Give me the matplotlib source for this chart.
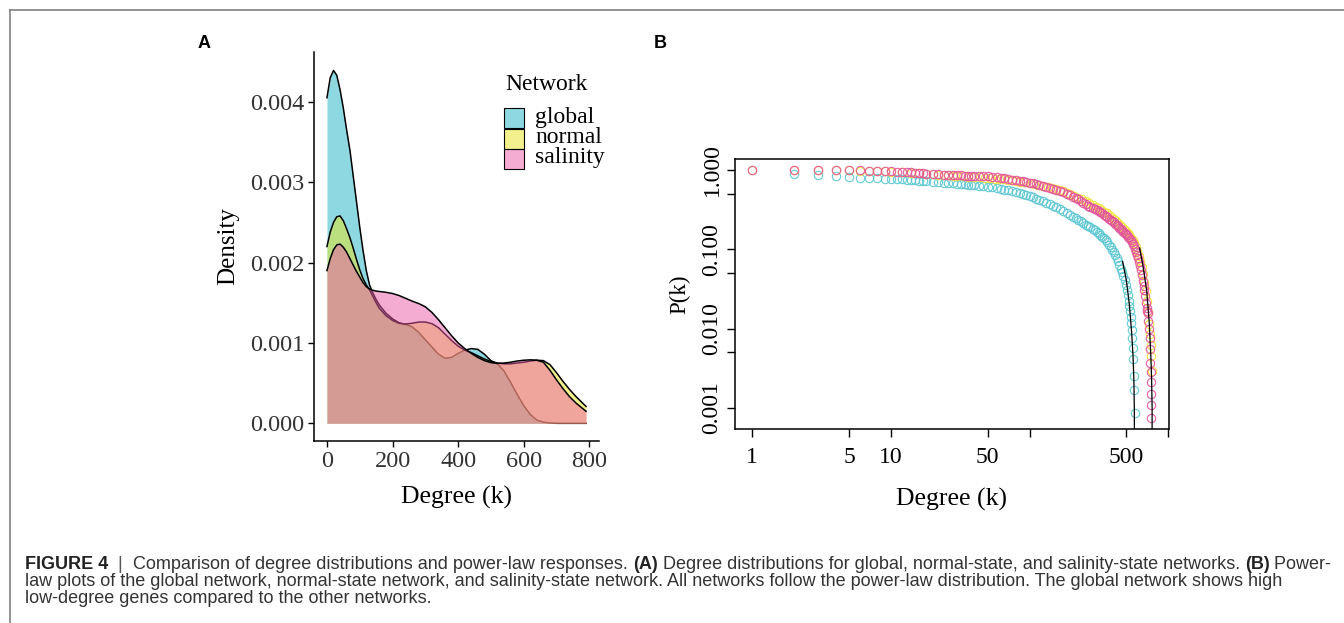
import numpy as np
import matplotlib
matplotlib.use('Agg')
import matplotlib.pyplot as plt
from matplotlib.patches import Rectangle
from matplotlib.lines import Line2D
from matplotlib.colors import to_rgba

# ---- panel A: density of degree (values x 0.001) ----
dens_x = [0, 10, 20, 30, 40, 50, 60, 70, 80, 90, 100, 110, 120, 130, 140, 150, 160, 180, 200, 220,
          240, 260, 280, 300, 320, 340, 360, 380, 400, 420, 440, 460, 480, 500, 520, 540, 560, 580,
          600, 620, 640, 660, 680, 700, 720, 740, 760, 790]
dens_global = [4.05, 4.30, 4.39, 4.33, 4.15, 3.92, 3.65, 3.40, 3.08, 2.76, 2.44, 2.15, 1.90, 1.72, 1.62,
               1.54, 1.47, 1.37, 1.30, 1.25, 1.23, 1.20, 1.13, 1.04, 0.95, 0.86, 0.81, 0.82, 0.87, 0.91,
               0.93, 0.92, 0.86, 0.78, 0.74, 0.65, 0.51, 0.36, 0.22, 0.11, 0.04, 0.015, 0.005, 0.0, 0.0,
               0.0, 0.0, 0.0]
dens_normal = [2.20, 2.38, 2.50, 2.57, 2.58, 2.52, 2.42, 2.31, 2.18, 2.04, 1.91, 1.80, 1.72, 1.66, 1.58,
               1.50, 1.43, 1.34, 1.28, 1.245, 1.235, 1.245, 1.26, 1.26, 1.24, 1.19, 1.11, 1.03, 0.96,
               0.91, 0.88, 0.84, 0.80, 0.77, 0.75, 0.74, 0.74, 0.75, 0.76, 0.775, 0.785, 0.78, 0.73,
               0.63, 0.52, 0.42, 0.33, 0.21]
dens_salinity = [1.90, 2.05, 2.16, 2.22, 2.23, 2.19, 2.13, 2.05, 1.97, 1.89, 1.82, 1.75, 1.70, 1.67, 1.655,
                 1.645, 1.64, 1.63, 1.615, 1.59, 1.555, 1.52, 1.49, 1.45, 1.38, 1.29, 1.19, 1.09, 1.00,
                 0.93, 0.87, 0.82, 0.78, 0.755, 0.745, 0.75, 0.76, 0.775, 0.785, 0.79, 0.785, 0.76,
                 0.66, 0.54, 0.43, 0.33, 0.25, 0.15]

networks = ['global', 'normal', 'salinity']
fills = ['#1FB3C6', '#E8E41E', '#EC5AA8']

# ---- panel B: P(k) vs degree ----
g_k = [2, 3, 4, 5, 6, 7, 8, 9, 10, 11, 12, 13, 14, 15, 16, 17, 18, 20, 22, 24, 26, 28, 30, 32, 34, 36, 38,
       40, 43, 46, 50, 54, 58, 62, 66, 70, 75, 80, 85, 90, 95, 100, 106, 112, 118, 125, 132, 140, 148, 156,
       165, 175, 185, 195, 205, 215, 225, 235, 245, 255, 265, 275, 285, 295, 305, 315, 325, 335, 345, 355,
       365, 375, 385, 395, 405, 415, 425, 435, 445, 455, 465, 475, 485, 495, 505, 512, 518, 524, 530, 535,
       540, 545, 550, 555, 560, 565, 570, 575]
g_p = [0.890, 0.848, 0.840, 0.808, 0.793, 0.785, 0.778, 0.774, 0.770, 0.763, 0.755, 0.748, 0.741, 0.734,
       0.730, 0.723, 0.713, 0.706, 0.696, 0.686, 0.679, 0.672, 0.666, 0.659, 0.653, 0.647, 0.641, 0.635,
       0.629, 0.623, 0.611, 0.599, 0.588, 0.574, 0.560, 0.549, 0.533, 0.518, 0.506, 0.494, 0.480, 0.466,
       0.448, 0.431, 0.415, 0.399, 0.384, 0.366, 0.349, 0.335, 0.320, 0.302, 0.285, 0.268, 0.256, 0.244,
       0.233, 0.223, 0.214, 0.204, 0.195, 0.188, 0.180, 0.174, 0.166, 0.158, 0.150, 0.143, 0.137, 0.130,
       0.122, 0.113, 0.106, 0.098, 0.091, 0.084, 0.077, 0.070, 0.064, 0.057, 0.051, 0.046, 0.041, 0.0356,
       0.0303, 0.0261, 0.0225, 0.0194, 0.0164, 0.0139, 0.0117, 0.0097, 0.0076, 0.0057, 0.0041, 0.00249,
       0.00169, 0.00086]

n_k = [1, 2, 3, 4, 5, 6, 7, 8, 9, 10, 12, 14, 16, 18, 20, 22, 24, 26, 28, 30, 33, 36, 40, 44, 48, 52, 56, 60,
       65, 70, 75, 80, 86, 92, 100, 108, 116, 125, 135, 145, 155, 165, 175, 185, 195, 210, 225, 240, 255,
       270, 285, 300, 315, 330, 345, 360, 375, 390, 405, 420, 435, 450, 465, 480, 495, 510, 525, 540, 555,
       570, 585, 600, 615, 630, 645, 660, 675, 690, 705, 718, 730, 740, 748, 754, 760]
n_p = [1.0, 0.995, 0.99, 0.985, 0.98, 0.975, 0.968, 0.96, 0.952, 0.944, 0.93, 0.916, 0.902, 0.888, 0.876,
       0.866, 0.856, 0.848, 0.84, 0.833, 0.825, 0.818, 0.81, 0.801, 0.792, 0.784, 0.775, 0.766, 0.755, 0.744,
       0.733, 0.722, 0.709, 0.696, 0.68, 0.664, 0.648, 0.63, 0.61, 0.59, 0.571, 0.552, 0.533, 0.514, 0.496,
       0.47, 0.446, 0.423, 0.401, 0.381, 0.362, 0.344, 0.327, 0.311, 0.296, 0.281, 0.266, 0.252, 0.238,
       0.225, 0.213, 0.202, 0.191, 0.181, 0.171, 0.161, 0.151, 0.14, 0.129, 0.118, 0.107, 0.095, 0.083,
       0.071, 0.06, 0.049, 0.039, 0.030, 0.022, 0.016, 0.0115, 0.0085, 0.0062, 0.0045, 0.0029]

s_k = [1, 2, 3, 4, 5, 6, 7, 8, 9, 10, 11, 12, 13, 14, 15, 16, 17, 18, 20, 22, 24, 26, 28, 30, 32, 34, 36, 38,
       40, 43, 46, 50, 54, 58, 62, 66, 70, 75, 80, 85, 90, 95, 100, 106, 112, 118, 125, 132, 140, 148, 156,
       165, 175, 185, 195, 205, 215, 225, 235, 245, 255, 265, 275, 285, 295, 305, 315, 325, 335, 345, 355,
       365, 375, 385, 395, 405, 415, 425, 435, 445, 455, 465, 475, 485, 495, 505, 515, 525, 535, 545, 555,
       565, 575, 585, 595, 605, 615, 625, 635, 645, 655, 665, 672, 680, 690, 700, 707, 713, 720, 728, 736,
       741, 745, 748, 750, 752, 755, 758]
s_p = [1.0, 1.0, 0.998, 0.995, 0.99, 0.984, 0.977, 0.968, 0.96, 0.952, 0.945, 0.937, 0.93, 0.923, 0.916,
       0.909, 0.902, 0.895, 0.886, 0.877, 0.869, 0.862, 0.857, 0.852, 0.848, 0.845, 0.841, 0.838, 0.835,
       0.831, 0.827, 0.822, 0.812, 0.801, 0.789, 0.776, 0.763, 0.750, 0.738, 0.725, 0.712, 0.700, 0.689,
       0.675, 0.660, 0.645, 0.628, 0.611, 0.590, 0.572, 0.555, 0.537, 0.517, 0.497, 0.477, 0.459, 0.442,
       0.424, 0.405, 0.385, 0.365, 0.352, 0.340, 0.330, 0.321, 0.312, 0.300, 0.292, 0.282, 0.271, 0.262,
       0.252, 0.243, 0.234, 0.225, 0.217, 0.208, 0.200, 0.193, 0.186, 0.179, 0.172, 0.166, 0.160, 0.154,
       0.149, 0.144, 0.138, 0.131, 0.124, 0.116, 0.108, 0.101, 0.093, 0.085, 0.077, 0.069, 0.062, 0.055,
       0.047, 0.040, 0.034, 0.031, 0.026, 0.021, 0.018, 0.0165, 0.0157, 0.0125, 0.0098, 0.0076, 0.0055,
       0.0037, 0.0028, 0.0021, 0.0015, 0.0011, 0.00074]

gfit_k = [469, 500, 525, 545, 558, 566, 570, 571]
gfit_p = [0.07, 0.04, 0.02, 0.009, 0.0045, 0.0022, 0.001, 0.0004]
sfit_k = [623, 660, 700, 730, 750, 760, 766, 766]
sfit_p = [0.103, 0.06, 0.03, 0.012, 0.0045, 0.0022, 0.001, 0.0004]

pt_colors = ['#5CC7D2', '#F2E33A', '#E3559B']

W, H = 1344, 623
serif = 'Liberation Serif'
sans = 'Liberation Sans'


def fx(x):
    return x / W


def fy(y):
    return 1 - y / H


fig = plt.figure(figsize=(W / 100, H / 100), dpi=100)

# outer frame (top and left gray rules)
fig.add_artist(Line2D([fx(9.5), 1], [fy(9.5), fy(9.5)], color='#8a8a8a', lw=1.3))
fig.add_artist(Line2D([fx(9.5), fx(9.5)], [fy(9.5), 0], color='#8a8a8a', lw=1.3))

# ---------------- panel A ----------------
axA = fig.add_axes([fx(314), fy(441), (599 - 314) / W, (441 - 52) / H])
xs = np.array(dens_x)
z = 1
for ys, c in zip([dens_global, dens_normal, dens_salinity], fills):
    yy = np.array(ys) / 1000
    axA.fill_between(xs, 0, yy, color=c, alpha=0.5, lw=0, zorder=z)
    axA.plot(xs, yy, color='black', lw=1.1, zorder=z + 0.5)
    z += 1
axA.set_xlim(-39.5, 829.5)
axA.set_ylim(-0.00022, 0.00462)
axA.set_xticks([0, 200, 400, 600, 800])
axA.set_yticks([0, 0.001, 0.002, 0.003, 0.004])
axA.set_yticklabels(['0.000', '0.001', '0.002', '0.003', '0.004'])
for s in ['top', 'right']:
    axA.spines[s].set_visible(False)
for s in ['left', 'bottom']:
    axA.spines[s].set_linewidth(1.1)
axA.tick_params(length=4, width=1.0, labelsize=17.5, labelcolor='#333333', pad=3)
for lab in axA.get_xticklabels() + axA.get_yticklabels():
    lab.set_family(serif)
axA.set_xlabel('Degree (k)', family=serif, fontsize=18.5, labelpad=10)
axA.set_ylabel('Density', family=serif, fontsize=18, labelpad=8)

# legend (drawn by hand, ggplot style)
fig.text(fx(505), fy(84), 'Network', family=serif, fontsize=17, va='center', ha='left')
for i, (name, c) in enumerate(zip(networks, fills)):
    top = 108 + i * 20.5
    fig.add_artist(Rectangle((fx(504), fy(top + 20)), 20 / W, 20 / H, transform=fig.transFigure,
                             facecolor=to_rgba(c, 0.5), edgecolor='black', lw=0.8))
    fig.text(fx(535), fy(top + 9), name, family=serif, fontsize=17, va='center', ha='left')

fig.text(fx(198), fy(44), 'A', family=sans, fontweight='bold', fontsize=13, va='center')
fig.text(fx(654), fy(44), 'B', family=sans, fontweight='bold', fontsize=13, va='center')

# ---------------- panel B ----------------
axB = fig.add_axes([fx(735), fy(429), (1169 - 735) / W, (429 - 159) / H])
axB.set_xscale('log')
axB.set_yscale('log')
for kk, pp, c in zip([g_k, n_k, s_k], [g_p, n_p, s_p], pt_colors):
    axB.plot(kk, pp, 'o', mfc='none', mec=c, ms=6, mew=0.85, alpha=0.9)
axB.plot(gfit_k, gfit_p, color='black', lw=0.9)
axB.plot(sfit_k, sfit_p, color='black', lw=0.9)
axB.set_xlim(10 ** -0.124, 10 ** 3.006)
axB.set_ylim(10 ** -3.265, 10 ** 0.135)
axB.set_xticks([1, 5, 10, 50, 100, 500, 1000])
axB.set_xticklabels(['1', '5', '10', '50', '', '500', ''])
axB.set_yticks([0.001, 0.005, 0.01, 0.05, 0.1, 0.5, 1])
axB.set_yticklabels(['0.001', '', '0.010', '', '0.100', '', '1.000'])
axB.minorticks_off()
for s in axB.spines.values():
    s.set_linewidth(1.1)
axB.tick_params(axis='x', length=6, width=1.0, labelsize=17, pad=7)
axB.tick_params(axis='y', length=6, width=1.0, labelsize=17, pad=3)
for lab in axB.get_xticklabels() + axB.get_yticklabels():
    lab.set_family(serif)
for lab in axB.get_yticklabels():
    lab.set_rotation(90)
    lab.set_va('center')
axB.set_xlabel('Degree (k)', family=serif, fontsize=18.5, labelpad=14)
axB.set_ylabel('P(k)', family=serif, fontsize=16.5, labelpad=8)

# ---------------- caption ----------------
lines = [
    [('FIGURE 4', 'bold', '#222222'), ('  |  ', 'normal', '#555555'),
     ('Comparison of degree distributions and power-law responses. ', 'normal', '#333333'),
     ('(A)', 'bold', '#222222'),
     (' Degree distributions for global, normal-state, and salinity-state networks. ', 'normal', '#333333'),
     ('(B)', 'bold', '#222222'), (' Power-', 'normal', '#333333')],
    [('law plots of the global network, normal-state network, and salinity-state network. All networks '
      'follow the power-law distribution. The global network shows high', 'normal', '#333333')],
    [('low-degree genes compared to the other networks.', 'normal', '#333333')],
]
renderer = fig.canvas.get_renderer()


def line_width(runs, size):
    w = 0
    for txt, wt, col in runs:
        t = fig.text(0, 0, txt, family=sans, fontweight=wt, fontsize=size)
        w += t.get_window_extent(renderer).width
        t.remove()
    return w


size = 10 * 1308 / line_width(lines[0], 10)
baselines = [569, 586, 603]
for runs, yb in zip(lines, baselines):
    x = 25
    for txt, wt, col in runs:
        t = fig.text(fx(x), fy(yb), txt, family=sans, fontweight=wt, fontsize=size, color=col,
                     va='baseline', ha='left')
        x += t.get_window_extent(renderer).width

fig.savefig('out.png', dpi=100)
